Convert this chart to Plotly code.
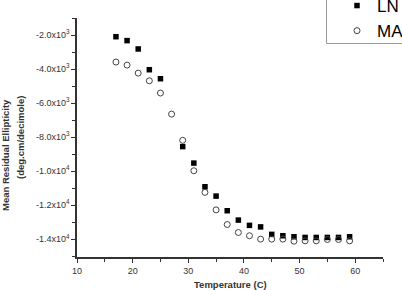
import plotly.graph_objects as go

temp_ln = [17, 19, 21, 23, 25, 29, 31, 33, 35, 37, 39, 41, 43, 45, 47, 49, 51, 53, 55, 57, 59]
ln_vals = [-2100, -2330, -2820, -4040, -4570, -8560, -9530, -10920, -11470, -12330,
           -12880, -13190, -13280, -13720, -13800, -13860, -13900, -13900, -13900, -13900, -13860]

temp_ma = [17, 19, 21, 23, 25, 27, 29, 31, 33, 35, 37, 39, 41, 43, 45, 47, 49, 51, 53, 55, 57, 59]
ma_vals = [-3590, -3770, -4240, -4690, -5410, -6650, -8190, -9980, -11250, -12280, -13140,
           -13610, -13800, -14000, -14000, -14000, -14120, -14100, -14100, -14020, -14020, -14100]

ytick_vals = [-2000, -4000, -6000, -8000, -10000, -12000, -14000]
ytick_text = ["-2.0x10<sup>3</sup>", "-4.0x10<sup>3</sup>", "-6.0x10<sup>3</sup>", "-8.0x10<sup>3</sup>",
              "-1.0x10<sup>4</sup>", "-1.2x10<sup>4</sup>", "-1.4x10<sup>4</sup>"]
xtick_vals = [10, 20, 30, 40, 50, 60]

FONT = "Liberation Sans, Arial, sans-serif"
PW, PH, L, T = 306, 239, 77, 18

fig = go.Figure()
fig.add_trace(go.Scatter(
    x=temp_ln, y=ln_vals, mode="markers", name="LN", legendgroup="a",
    marker=dict(symbol="square", size=5.5, color="black", line=dict(width=0)),
))
fig.add_trace(go.Scatter(
    x=temp_ma, y=ma_vals, mode="markers", name="MA", legendgroup="b",
    marker=dict(symbol="circle-open", size=6, color="#444", line=dict(width=1, color="#444")),
))

fig.update_layout(
    width=402, height=290,
    margin=dict(l=77, r=19, t=18, b=33, autoexpand=False),
    paper_bgcolor="white", plot_bgcolor="white",
    font=dict(family=FONT, size=9, color="#333"),
    showlegend=True,
    legend=dict(
        x=(337 - L) / PW, y=(257 - 49) / PH, xanchor="left", yanchor="bottom",
        bgcolor="rgba(0,0,0,0)", borderwidth=0,
        font=dict(family=FONT, size=17, color="black"),
        tracegroupgap=0, itemsizing="trace",
    ),
    shapes=[
        dict(type="rect", xref="paper", yref="paper",
             x0=(326.5 - L) / PW, x1=(420 - L) / PW,
             y0=(257 - 43.5) / PH, y1=(257 + 10) / PH,
             line=dict(color="#999", width=1), fillcolor="white", layer="above"),
    ],
    xaxis=dict(
        range=[10, 65], tickvals=xtick_vals, ticks="outside", ticklen=4, tickwidth=1,
        tickcolor="#333", showline=True, linecolor="#333", linewidth=1.5,
        showgrid=False, zeroline=False, tickfont=dict(size=9, color="#333"),
        minor=dict(dtick=5, tick0=15, ticks="outside", ticklen=3, tickcolor="#333", showgrid=False),
    ),
    yaxis=dict(
        range=[-15050, -1000], tickvals=ytick_vals, ticktext=ytick_text,
        ticks="outside", ticklen=4, tickwidth=1, tickcolor="#333",
        showline=True, linecolor="#333", linewidth=1.5, showgrid=False, zeroline=False,
        tickfont=dict(size=9, color="#333"),
        minor=dict(tickvals=[-1000, -3000, -5000, -7000, -9000, -11000, -13000, -15000],
                   ticks="outside", ticklen=3, tickcolor="#333", showgrid=False),
    ),
    annotations=[
        dict(text="<b>Temperature (C)</b>", xref="paper", yref="paper", x=0.5, y=-27/PH,
             xanchor="center", yanchor="middle", showarrow=False,
             font=dict(family=FONT, size=9.5, color="#333")),
        dict(text="<b>Mean Residual Ellipticity</b>", xref="paper", yref="paper",
             x=-72/PW, y=(257-155)/PH, xanchor="center", yanchor="middle", showarrow=False,
             textangle=-90, font=dict(family=FONT, size=9.5, color="#333")),
        dict(text="<b>(deg.cm/decimole)</b>", xref="paper", yref="paper",
             x=-57/PW, y=(257-138)/PH, xanchor="center", yanchor="middle", showarrow=False,
             textangle=-90, font=dict(family=FONT, size=9.5, color="#333")),
    ],
)

fig.write_html("out.html")
